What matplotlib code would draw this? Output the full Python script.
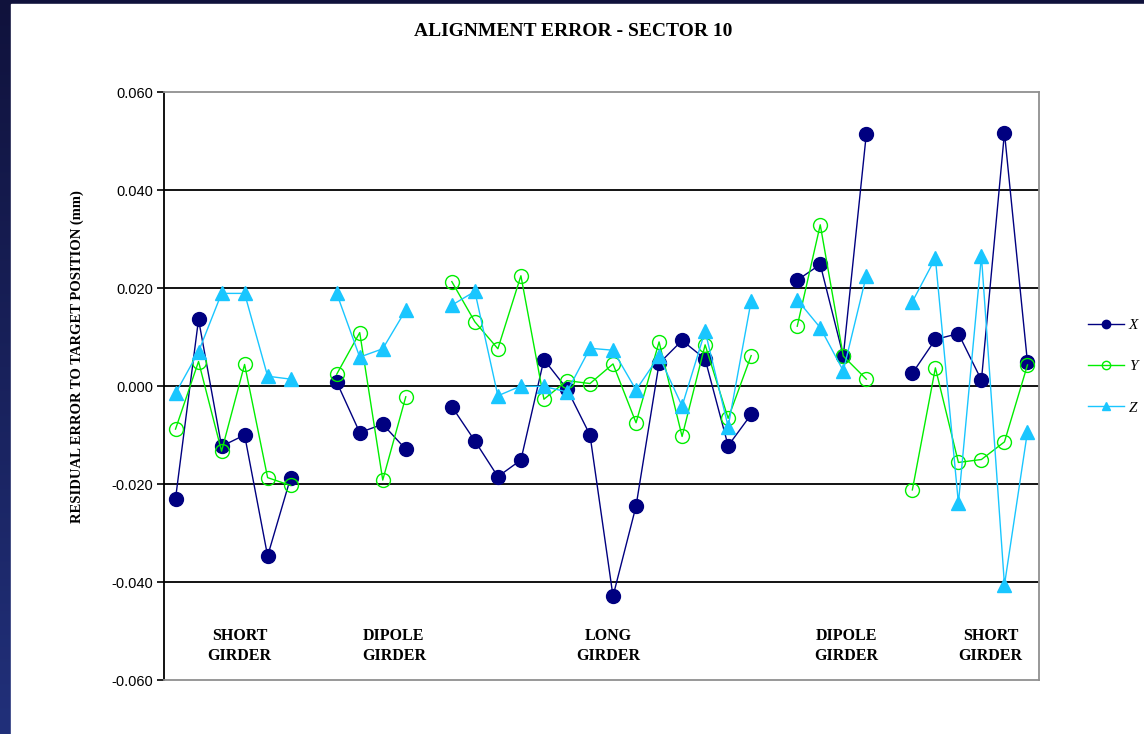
import numpy as np
import matplotlib
matplotlib.use('Agg')
import matplotlib.pyplot as plt
from matplotlib.patches import Rectangle

nan = np.nan

# residuals per measurement slot (mm); nan marks the gap between girders
x_err = [-0.0230, 0.0136, -0.0123, -0.0100, -0.0347, -0.0187, nan,
         0.0008, -0.0095, -0.0078, -0.0129, nan,
         -0.0042, -0.0112, -0.0185, -0.0151, 0.0054, -0.0006, -0.0100,
         -0.0429, -0.0245, 0.0046, 0.0093, 0.0055, -0.0122, -0.0058, nan,
         0.0216, 0.0248, 0.0061, 0.0514, nan,
         0.0026, 0.0095, 0.0107, 0.0012, 0.0517, 0.0048]
y_err = [-0.0088, 0.0050, -0.0133, 0.0044, -0.0187, -0.0203, nan,
         0.0024, 0.0109, -0.0192, -0.0022, nan,
         0.0213, 0.0131, 0.0076, 0.0225, -0.0027, 0.0011, 0.0005,
         0.0045, -0.0075, 0.0090, -0.0103, 0.0084, -0.0066, 0.0062, nan,
         0.0122, 0.0329, 0.0061, 0.0014, nan,
         -0.0212, 0.0037, -0.0156, -0.0150, -0.0114, 0.0043]
z_err = [-0.0015, 0.0070, 0.0189, 0.0189, 0.0020, 0.0014, nan,
         0.0189, 0.0059, 0.0076, 0.0155, nan,
         0.0165, 0.0193, -0.0020, 0.0000, -0.0001, -0.0012, 0.0077,
         0.0073, -0.0008, 0.0061, -0.0041, 0.0112, -0.0083, 0.0174, nan,
         0.0176, 0.0119, 0.0031, 0.0225, nan,
         0.0172, 0.0261, -0.0239, 0.0265, -0.0406, -0.0093]

girder_names = ['SHORT\nGIRDER', 'DIPOLE\nGIRDER', 'LONG\nGIRDER',
                'DIPOLE\nGIRDER', 'SHORT\nGIRDER']
girder_pos = [2.78, 9.48, 18.78, 29.13, 35.4]
y_ticks = [-0.06, -0.04, -0.02, 0.0, 0.02, 0.04, 0.06]

slots = np.arange(len(x_err))

fig = plt.figure(figsize=(11.44, 7.34), dpi=100)
fig.patch.set_facecolor('white')

# dark blue frame on the left and top edges
bg = fig.add_axes([0, 0, 1, 1], zorder=-10)
grad = np.linspace(0, 1, 256).reshape(-1, 1)
bg.imshow(grad, aspect='auto', extent=[0, 1, 0, 1],
          cmap=matplotlib.colors.LinearSegmentedColormap.from_list(
              'frame', ['#21307a', '#10123c']), origin='lower')
bg.add_patch(Rectangle((11 / 1144, 0), 1, 1 - 4 / 734, color='white'))
bg.set_xlim(0, 1)
bg.set_ylim(0, 1)
bg.axis('off')

ax = fig.add_axes([164 / 1144, 1 - 680 / 734, 875 / 1144, 588 / 734])

ax.plot(slots, x_err, color='#000080', lw=1, marker='o', ms=10,
        mfc='#000080', mec='#000080', label='X', zorder=3)
ax.plot(slots, y_err, color='#00ee00', lw=1, marker='o', ms=10,
        mfc='none', mec='#00ee00', mew=1, label='Y', zorder=4)
ax.plot(slots, z_err, color='#19c6ff', lw=1, marker='^', ms=10,
        mfc='#19c6ff', mec='#19c6ff', label='Z', zorder=5)

ax.set_xlim(-0.5, len(slots) - 0.5)
ax.set_ylim(-0.06, 0.06)
ax.set_yticks(y_ticks)
ax.set_yticklabels(['%.3f' % v for v in y_ticks],
                   fontfamily='Liberation Sans', fontsize=10.5)
ax.set_xticks([])
ax.tick_params(axis='y', direction='out', length=5, width=1.2, pad=3)
for v in y_ticks[1:-1]:
    ax.axhline(v, color='black', lw=1.3, zorder=1)

ax.spines['left'].set_color('black')
ax.spines['left'].set_linewidth(1.3)
for s in ['top', 'right', 'bottom']:
    ax.spines[s].set_color('#909090')
    ax.spines[s].set_linewidth(1.3)

for name, pos in zip(girder_names, girder_pos):
    ax.text(pos, -0.0531, name, ha='center', va='center',
            fontfamily='Liberation Serif', fontweight='bold', fontsize=11.5,
            linespacing=1.3)

ax.set_ylabel('RESIDUAL ERROR TO TARGET POSITION (mm)',
              fontfamily='Liberation Serif', fontweight='bold', fontsize=10.5)
ax.yaxis.set_label_coords(-0.091, 0.55)

fig.text(0.501, 1 - 32 / 734, 'ALIGNMENT ERROR - SECTOR 10', ha='center',
         va='center', fontfamily='Liberation Serif', fontweight='bold',
         fontsize=14)

leg = ax.legend(loc='center left', bbox_to_anchor=(1.04, 0.533),
                frameon=False, handlelength=2.4, labelspacing=1.8,
                prop={'family': 'Liberation Serif', 'style': 'italic',
                      'size': 11}, markerscale=0.6, handletextpad=0.3)

fig.savefig('out.png', dpi=100)
